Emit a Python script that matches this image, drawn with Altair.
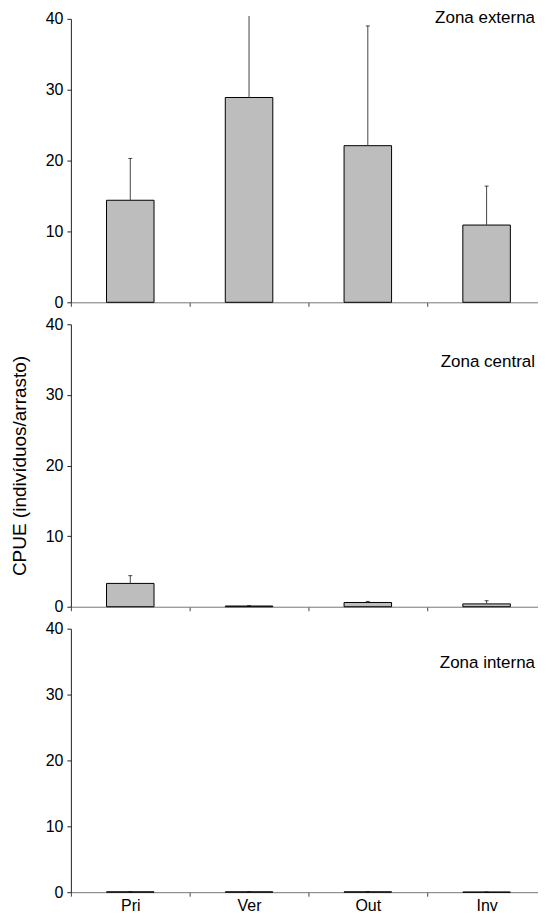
import altair as alt
import pandas as pd

seasons = ["Pri", "Ver", "Out", "Inv"]
zones = ["Zona externa", "Zona central", "Zona interna"]
mean_externa = [14.4, 28.9, 22.1, 10.9]
upper_externa = [20.3, 40.4, 39.0, 16.4]
mean_central = [3.3, 0.1, 0.6, 0.4]
upper_central = [4.4, 0.15, 0.75, 0.85]
mean_interna = [0.05, 0.05, 0.05, 0.01]
upper_interna = [0.08, 0.08, 0.08, 0.03]
y_ticks = [0, 10, 20, 30, 40]
y_title = "CPUE (indivíduos/arrasto)"

FONT = "Liberation Sans"


def panel(zone, means, uppers, height, label_y, show_labels, title):
    df = pd.DataFrame({"season": seasons, "mean": means, "upper": uppers})
    base = alt.Chart(df)
    x = alt.X(
        "season:N",
        sort=seasons,
        scale=alt.Scale(paddingInner=0, paddingOuter=0),
        axis=alt.Axis(
            title=None,
            labels=show_labels,
            tickBand="extent",
            tickSize=4,
            tickColor="#444",
            domainColor="#777",
            labelFontSize=16,
            labelPadding=1,
            labelAngle=0,
            grid=False,
        ),
    )
    yaxis = alt.Axis(
        values=y_ticks,
        title=title,
        titleFontSize=19,
        titlePadding=16,
        titleFontWeight="normal",
        tickSize=4,
        tickColor="#222",
        domainColor="#222",
        labelFontSize=16,
        labelPadding=4,
        grid=False,
    )
    yscale = alt.Scale(domain=[0, 40], nice=False)
    bars = base.mark_bar(
        width=alt.RelativeBandSize(0.4), fill="#bdbdbd", stroke="black", strokeWidth=1
    ).encode(x=x, y=alt.Y("mean:Q", scale=yscale, axis=yaxis))
    err = base.mark_rule(color="#444", strokeWidth=1).encode(
        x=x, y=alt.Y("mean:Q", scale=yscale, axis=yaxis), y2="upper:Q"
    )
    caps = (
        base.transform_filter("datum.upper <= 40")
        .mark_tick(color="black", thickness=1, size=4)
        .encode(x=x, y=alt.Y("upper:Q", scale=yscale, axis=yaxis))
    )
    label = (
        alt.Chart(pd.DataFrame({"zone": [zone]}))
        .mark_text(align="right", baseline="middle", fontSize=17, font=FONT, color="black")
        .encode(x=alt.value(465), y=alt.value(label_y), text="zone:N")
    )
    return alt.layer(bars, err, caps, label).properties(width=476, height=height)


top = panel(zones[0], mean_externa, upper_externa, 284, -1, False, None)
mid = panel(zones[1], mean_central, upper_central, 283, 38, False, y_title)
bot = panel(zones[2], mean_interna, upper_interna, 264, 34, True, None)

chart = (
    alt.vconcat(top, mid, bot, spacing=22, bounds="flush")
    .properties(padding={"left": 2, "top": 0, "right": -9, "bottom": 0})
    .configure_view(strokeWidth=0)
    .configure_axis(labelFont=FONT, titleFont=FONT, labelColor="black", titleColor="black")
)

chart.save("out.html", embed_options={"renderer": "svg", "actions": False})
